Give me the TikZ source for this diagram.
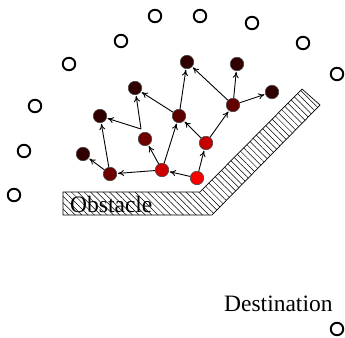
\documentclass[tikz,border=0pt]{standalone}
\usepackage{fontspec}
\setmainfont{Liberation Serif}
\usetikzlibrary{patterns.meta,arrows.meta}
\definecolor{cM}{HTML}{F60000}
\definecolor{cL}{HTML}{CC0000}
\definecolor{cI}{HTML}{C40000}
\definecolor{cH}{HTML}{6E0000}
\definecolor{cF}{HTML}{5C0000}
\definecolor{cK}{HTML}{6A0000}
\definecolor{cE}{HTML}{620000}
\definecolor{cD}{HTML}{300000}
\begin{document}
\begin{tikzpicture}[x=1pt,y=-1pt,
  open/.style={circle,draw=black,line width=1.9pt,fill=white,minimum size=12.5pt,inner sep=0pt},
  agent/.style={circle,draw=black!75,line width=0.5pt,minimum size=13.5pt,inner sep=0pt},
  arr/.style={-{To[length=6pt,width=6pt]},line width=0.9pt,shorten >=1pt},
  lbl/.style={font=\fontsize{23.5}{26}\selectfont,inner sep=0pt},
  obst/.style={draw=black,line width=0.7pt,pattern={Lines[angle=-45,distance=4.5pt,line width=0.5pt]}}]
\useasboundingbox (0,0) rectangle (345,337);
% obstacle
\draw[obst] (63,192) -- (200,192) -- (302,89) -- (320,105) -- (212,215) -- (63,215) -- cycle;
\node[lbl,anchor=base west] (obsl) at (70,212) {Obstacle};
\node[lbl,anchor=base west] (dest) at (224,311.5) {Destination};
% open circles
\node[open] (o1) at (155,16) {};
\node[open] (o2) at (200,16) {};
\node[open] (o3) at (252,23) {};
\node[open] (o4) at (303,43) {};
\node[open] (o5) at (337,74) {};
\node[open] (o6) at (121,41) {};
\node[open] (o7) at (69,64) {};
\node[open] (o8) at (35,106) {};
\node[open] (o9) at (24,151) {};
\node[open] (o10) at (14,195) {};
\node[open] (o11) at (337,329) {};
% agents
\node[agent,fill=cD] (A) at (187,62) {};
\node[agent,fill=cD] (B) at (237,64) {};
\node[agent,fill=cD] (C) at (272,92) {};
\node[agent,fill=cD] (D) at (135,88) {};
\node[agent,fill=cE] (E) at (233,105) {};
\node[agent,fill=cF] (F) at (179,116) {};
\node[agent,fill=cD] (G) at (100,116) {};
\node[agent,fill=cH] (H) at (145,139) {};
\node[agent,fill=cI] (I) at (206,143) {};
\node[agent,fill=cD] (J) at (83,154) {};
\node[agent,fill=cK] (K) at (110,174) {};
\node[agent,fill=cL] (L) at (162,170) {};
\node[agent,fill=cM] (M) at (197,178) {};
\coordinate (hj) at (141,129);
% arrows
\draw[arr] (M) -- (L);
\draw[arr] (M) -- (I);
\draw[arr] (L) -- (K);
\draw[arr] (L) -- (H);
\draw[arr] (L) -- (F);
\draw[arr] (I) -- (F);
\draw[arr] (I) -- (E);
\draw[arr] (K) -- (J);
\draw[arr] (K) -- (G);
\draw[arr] (hj) -- (G);
\draw[arr] (hj) -- (D);
\draw[arr] (F) -- (D);
\draw[arr] (F) -- (A);
\draw[arr] (E) -- (A);
\draw[arr] (E) -- (B);
\draw[arr] (E) -- (C);
\end{tikzpicture}
\end{document}
